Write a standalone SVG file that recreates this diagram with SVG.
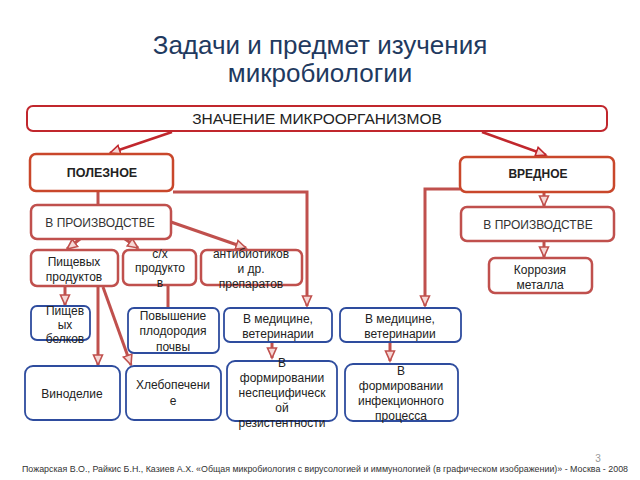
<svg xmlns="http://www.w3.org/2000/svg" width="640" height="480" viewBox="0 0 640 480">
<defs>
<style>
text{font-family:"Liberation Sans",Arial,sans-serif;fill:#222;text-anchor:middle}
.title{font-size:26px;fill:#1f3a60}
.bold{font-weight:bold;font-size:12.5px}
.t{font-size:12px}
.tc{font-size:12px;fill:#333}
.top{fill:#fff;stroke:#c1272d;stroke-width:2}
.main{fill:#fff;stroke:#c9472b;stroke-width:2.5}
.red{fill:#fff;stroke:#c0504d;stroke-width:2.5}
.blue{fill:#fff;stroke:#2e4c9e;stroke-width:1.8}
.c{fill:none;stroke:#c0504d;stroke-width:3}
.cd{fill:none;stroke:#c1272d;stroke-width:2.5}
</style>
<marker id="a" markerUnits="userSpaceOnUse" markerWidth="14" markerHeight="14" refX="11" refY="6" orient="auto" viewBox="0 0 14 12">
<path d="M1,1.5 L11,6 L1,10.5 z" fill="#f6d8d6" stroke="#c0504d" stroke-width="1.6"/>
</marker>
<marker id="ad" markerUnits="userSpaceOnUse" markerWidth="14" markerHeight="14" refX="11" refY="6" orient="auto" viewBox="0 0 14 12">
<path d="M1,1.5 L11,6 L1,10.5 z" fill="#f6d8d6" stroke="#c1272d" stroke-width="1.6"/>
</marker>
</defs>
<rect width="640" height="480" fill="#fff"/>
<g id="title">
<text class="title" x="320" y="54">Задачи и предмет изучения</text>
<text class="title" x="320" y="82">микробиологии</text>
</g>
<g id="connectors">
<path class="cd" d="M172,132 L110,153" marker-end="url(#ad)"/>
<path class="cd" d="M482,132 L546,155" marker-end="url(#ad)"/>
<path class="c" d="M98,191 L98,205"/>
<path class="c" d="M173,192 L307,192 L307,306" marker-end="url(#a)"/>
<path class="c" d="M460,189 L425,189 L425,306" marker-end="url(#a)"/>
<path class="c" d="M544,192 L544,206" marker-end="url(#a)"/>
<path class="c" d="M544,241 L544,257" marker-end="url(#a)"/>
<path class="c" d="M80,239 L67,249" marker-end="url(#a)"/>
<path class="c" d="M125,239 L138,248" marker-end="url(#a)"/>
<path class="c" d="M171,222 L246,248" marker-end="url(#a)"/>
<path class="c" d="M65,287 L65,305" marker-end="url(#a)"/>
<path class="c" d="M98,287 L98,365" marker-end="url(#a)"/>
<path class="c" d="M103,287 L131,365" marker-end="url(#a)"/>
<path class="c" d="M168,286 L168,308"/>
<path class="c" d="M272,342 L272,358" marker-end="url(#a)"/>
<path class="c" d="M390,342 L390,361" marker-end="url(#a)"/>
</g>
<g id="n-top"><rect class="top" x="27" y="106" width="580" height="25" rx="6"/><text x="317" y="124" style="font-size:15.5px">ЗНАЧЕНИЕ МИКРООРГАНИЗМОВ</text></g>
<g id="n-polez"><rect class="main" x="30" y="154" width="143" height="37" rx="6"/><text class="bold" x="102" y="177">ПОЛЕЗНОЕ</text></g>
<g id="n-vred"><rect class="main" x="460" y="157" width="154" height="35" rx="6"/><text class="bold" x="538" y="178" style="font-size:12px">ВРЕДНОЕ</text></g>
<g id="n-proizv1"><rect class="red" x="31" y="205" width="140" height="34" rx="6"/><text class="tc" x="100" y="227">В ПРОИЗВОДСТВЕ</text></g>
<g id="n-proizv2"><rect class="red" x="461" y="207" width="153" height="34" rx="6"/><text class="tc" x="538" y="229">В ПРОИЗВОДСТВЕ</text></g>
<g id="n-pishch"><rect class="red" x="31" y="250" width="87" height="36" rx="6"/><text class="t" x="74" y="266">Пищевых</text><text class="t" x="74" y="281">продуктов</text></g>
<g id="n-sh"><rect class="red" x="123" y="250" width="73" height="35" rx="6"/><text class="t" x="160" y="258">с/х</text><text class="t" x="160" y="272">продукто</text><text class="t" x="160" y="287">в</text></g>
<g id="n-antib"><rect class="red" x="201" y="250" width="101" height="35" rx="6"/><text class="t" x="251" y="258">антибиотиков</text><text class="t" x="251" y="273">и др.</text><text class="t" x="251" y="288">препаратов</text></g>
<g id="n-korr"><rect class="red" x="489" y="258" width="103" height="35" rx="6"/><text class="t" x="540" y="274">Коррозия</text><text class="t" x="540" y="289">металла</text></g>
<g id="n-belk"><rect class="blue" x="31" y="306" width="59" height="34" rx="6"/><text class="t" x="65" y="315">Пищев</text><text class="t" x="65" y="329">ых</text><text class="t" x="65" y="343">белков</text></g>
<g id="n-plod"><rect class="blue" x="128" y="308" width="91" height="45" rx="6"/><text class="t" x="173" y="320">Повышение</text><text class="t" x="173" y="335">плодородия</text><text class="t" x="173" y="351">почвы</text></g>
<g id="n-med1"><rect class="blue" x="224" y="308" width="108" height="34" rx="6"/><text class="t" x="278" y="323">В медицине,</text><text class="t" x="278" y="338">ветеринарии</text></g>
<g id="n-med2"><rect class="blue" x="340" y="308" width="121" height="34" rx="6"/><text class="t" x="400" y="323">В медицине,</text><text class="t" x="400" y="338">ветеринарии</text></g>
<g id="n-vino"><rect class="blue" x="25" y="366" width="95" height="54" rx="8"/><text class="t" x="72" y="398">Виноделие</text></g>
<g id="n-hleb"><rect class="blue" x="126" y="366" width="95" height="54" rx="8"/><text class="t" x="173" y="389">Хлебопечени</text><text class="t" x="173" y="405">е</text></g>
<g id="n-nesp"><rect class="blue" x="227" y="361" width="110" height="60" rx="8"/><text class="t" x="282" y="367">В</text><text class="t" x="282" y="382">формировании</text><text class="t" x="282" y="397">неспецифическ</text><text class="t" x="282" y="412">ой</text><text class="t" x="282" y="427">резистентности</text></g>
<g id="n-infek"><rect class="blue" x="345" y="364" width="113" height="57" rx="8"/><text class="t" x="401" y="375">В</text><text class="t" x="401" y="390">формировании</text><text class="t" x="401" y="405">инфекционного</text><text class="t" x="401" y="420">процесса</text></g>
<g id="footer">
<text x="598" y="462" style="font-size:10px;fill:#999">3</text>
<text x="325" y="472" style="font-size:8.5px;fill:#333" textLength="606" lengthAdjust="spacingAndGlyphs">Пожарская В.О., Райкис Б.Н., Казиев А.Х. «Общая микробиология с вирусологией и иммунологией (в графическом изображении)» - Москва - 2008</text>
</g>
</svg>
